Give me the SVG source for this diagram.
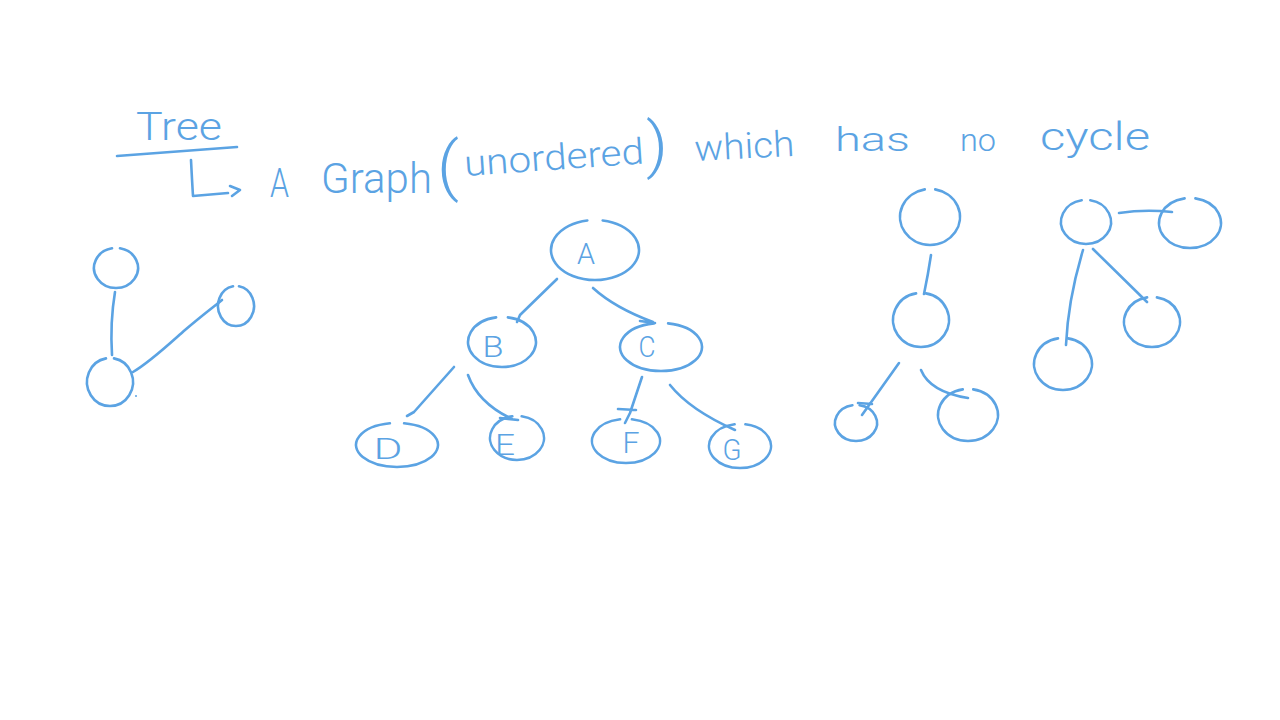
<svg xmlns="http://www.w3.org/2000/svg" width="1280" height="720" viewBox="0 0 1280 720">
<style>
.s{fill:none;stroke:#5ba3e3;stroke-width:2.6;stroke-linecap:round;stroke-linejoin:round}
.t{fill:#5ba3e3;font-family:Roboto,"Liberation Sans","DejaVu Sans",sans-serif;font-weight:300}
.n{fill:#5ba3e3;font-family:Roboto,"Liberation Sans","DejaVu Sans",sans-serif;font-weight:300;font-size:30px;text-anchor:middle}
</style>
<rect width="1280" height="720" fill="#ffffff"/>
<g id="title">
<text class="t" x="136" y="140" font-size="38" textLength="86" lengthAdjust="spacingAndGlyphs">Tree</text>
<path class="s" d="M117,156 L237,147"/>
<path class="s" d="M191,160 Q192,180 193,196 L228,193 M230,186 L240,190 L232,196"/>
<text class="t" x="270" y="197" font-size="40" textLength="19" lengthAdjust="spacingAndGlyphs">A</text>
<text class="t" x="321" y="193" font-size="42" textLength="111" lengthAdjust="spacingAndGlyphs">Graph</text>
<text class="t" x="437" y="188" font-size="64" textLength="22" lengthAdjust="spacingAndGlyphs">(</text>
<text class="t" x="465" y="176" font-size="36" textLength="180" lengthAdjust="spacingAndGlyphs" transform="rotate(-4 465 176)">unordered</text>
<text class="t" x="646" y="166" font-size="62" textLength="22" lengthAdjust="spacingAndGlyphs">)</text>
<text class="t" x="695" y="161" font-size="36" textLength="100" lengthAdjust="spacingAndGlyphs" transform="rotate(-3 695 161)">which</text>
<text class="t" x="835" y="151" font-size="34" textLength="75" lengthAdjust="spacingAndGlyphs">has</text>
<text class="t" x="960" y="151" font-size="32" textLength="36" lengthAdjust="spacingAndGlyphs">no</text>
<text class="t" x="1040" y="150" font-size="38" textLength="110" lengthAdjust="spacingAndGlyphs">cycle</text>
</g>
<g id="connectors">
<path class="s" d="M115,292 Q110,322 112,355"/>
<path class="s" d="M133,372 C150,362 168,345 185,330 C200,317 212,308 222,300"/>
<path class="s" d="M557,279 L520,315 L517,322"/>
<path class="s" d="M593,288 Q615,308 653,322 M640,321 L655,323"/>
<path class="s" d="M454,367 L414,412 L407,416"/>
<path class="s" d="M468,375 Q478,403 512,419 M500,418 L518,420"/>
<path class="s" d="M642,377 L630,413 L625,423 M618,409 L636,410"/>
<path class="s" d="M670,385 Q690,410 735,430"/>
<path class="s" d="M931,255 Q928,275 924,294"/>
<path class="s" d="M899,363 L862,415 M858,403 L872,404"/>
<path class="s" d="M921,370 Q930,392 968,398"/>
<path class="s" d="M1119,213 Q1145,209 1172,212"/>
<path class="s" d="M1083,250 Q1068,300 1066,345"/>
<path class="s" d="M1093,249 L1147,302"/>
</g>
<g id="n-l1"><path class="s" d="M120,248.3 A22 20 0 1 1 112,248.3"/></g>
<g id="n-l2"><path class="s" d="M239,286.3 A18 20 0 1 1 233,286.3"/></g>
<g id="n-l3"><path class="s" d="M114,358.4 A23 24 0 1 1 106,358.4"/><circle cx="136" cy="396" r="1" fill="#5ba3e3"/></g>
<g id="n-A"><path class="s" d="M602.7,220.5 A44 30 0 1 1 587.3,220.5"/><text class="n" x="586" y="264" font-size="40" textLength="18" lengthAdjust="spacingAndGlyphs">A</text></g>
<g id="n-B"><path class="s" d="M507.9,317.4 A34 25 0 1 1 496.1,317.4"/><text class="n" x="493" y="357" font-size="38" textLength="21" lengthAdjust="spacingAndGlyphs">B</text></g>
<g id="n-C"><path class="s" d="M668.1,323.4 A41 24 0 1 1 653.9,323.4"/><text class="n" x="647" y="357" font-size="28" textLength="17" lengthAdjust="spacingAndGlyphs">C</text></g>
<g id="n-D"><path class="s" d="M404.1,423.3 A41 22 0 1 1 389.9,423.3"/><text class="n" x="388" y="459" font-size="30" textLength="29" lengthAdjust="spacingAndGlyphs">D</text></g>
<g id="n-E"><path class="s" d="M521.7,416.3 A27 22 0 1 1 512.3,416.3"/><text class="n" x="505" y="455" font-size="38" textLength="20" lengthAdjust="spacingAndGlyphs">E</text></g>
<g id="n-F"><path class="s" d="M631.9,419.3 A34 22 0 1 1 620.1,419.3"/><text class="n" x="631" y="453" font-size="32" textLength="17" lengthAdjust="spacingAndGlyphs">F</text></g>
<g id="n-G"><path class="s" d="M745.4,424.3 A31 22 0 1 1 734.6,424.3"/><text class="n" x="732" y="460" font-size="32" textLength="19" lengthAdjust="spacingAndGlyphs">G</text></g>
<g id="n-r1"><path class="s" d="M935.2,189.4 A30 28 0 1 1 924.8,189.4"/></g>
<g id="n-r2"><path class="s" d="M925.9,293.4 A28 27 0 1 1 916.1,293.4"/></g>
<g id="n-r3"><path class="s" d="M859.6,405.3 A21 18 0 1 1 852.4,405.3"/></g>
<g id="n-r4"><path class="s" d="M973.2,389.4 A30 26 0 1 1 962.8,389.4"/></g>
<g id="n-s1"><path class="s" d="M1090.3,200.3 A25 22 0 1 1 1081.7,200.3"/></g>
<g id="n-s2"><path class="s" d="M1195.4,198.4 A31 25 0 1 1 1184.6,198.4"/></g>
<g id="n-s3"><path class="s" d="M1068,338.4 A29 26 0 1 1 1058,338.4"/></g>
<g id="n-s4"><path class="s" d="M1156.9,297.4 A28 25 0 1 1 1147.1,297.4"/></g>
</svg>
